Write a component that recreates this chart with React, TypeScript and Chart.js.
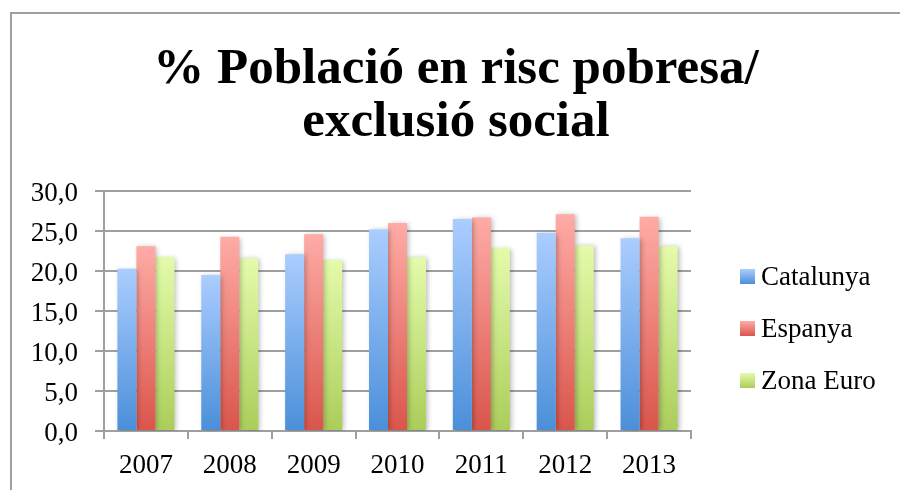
import React, { useEffect, useRef } from "react";
import { Chart, registerables } from "chart.js";

Chart.register(...registerables);

const years = ["2007", "2008", "2009", "2010", "2011", "2012", "2013"];
const catalunya = [20.3, 19.5, 22.1, 25.2, 26.5, 24.8, 24.1];
const espanya = [23.1, 24.3, 24.6, 26.0, 26.7, 27.1, 26.8];
const zonaEuro = [21.8, 21.6, 21.4, 21.7, 22.9, 23.2, 23.1];
const titleLines = ["% Població en risc pobresa/", "exclusió social"];
const seriesNames = ["Catalunya", "Espanya", "Zona Euro"];

const palette = [
  { top: "#abcdff", bottom: "#4a8fd9" },
  { top: "#ffaba6", bottom: "#d9554b" },
  { top: "#e4fbab", bottom: "#abcd5a" },
];

const GRID = "#9f9f9f";
const FONT = "'Liberation Serif', 'Times New Roman', serif";

function barFill(idx: number) {
  return (ctx: any) => {
    const chart = ctx.chart;
    const area = chart.chartArea;
    const c = palette[idx];
    if (!area || ctx.type !== "data" || !chart.scales.y) return c.bottom;
    const y = chart.scales.y.getPixelForValue(ctx.parsed.y);
    const g = chart.ctx.createLinearGradient(0, y, 0, area.bottom);
    g.addColorStop(0, c.top);
    g.addColorStop(1, c.bottom);
    return g;
  };
}

const shadowPlugin = {
  id: "barShadow",
  beforeDatasetsDraw(chart: any) {
    const ctx = chart.ctx;
    ctx.save();
    ctx.shadowColor = "rgba(0,0,0,0.28)";
    ctx.shadowBlur = 5;
    ctx.shadowOffsetX = 2;
    ctx.shadowOffsetY = 1;
  },
  afterDatasetsDraw(chart: any) {
    chart.ctx.restore();
  },
};

const legendPlugin = {
  id: "gradLegend",
  afterDraw(chart: any) {
    const ctx = chart.ctx;
    const area = chart.chartArea;
    const x = area.right + 49;
    const centerY = 328.5;
    const gap = 52;
    ctx.save();
    ctx.font = `27px ${FONT}`;
    ctx.textBaseline = "middle";
    ctx.textAlign = "left";
    chart.data.datasets.forEach((ds: any, i: number) => {
      const cy = centerY + (i - 1) * gap;
      const c = palette[i];
      const g = ctx.createLinearGradient(0, cy - 7.5, 0, cy + 7.5);
      g.addColorStop(0, c.top);
      g.addColorStop(1, c.bottom);
      ctx.fillStyle = g;
      ctx.fillRect(x, cy - 7.5, 15, 15);
      ctx.fillStyle = "#000";
      ctx.fillText(ds.label, x + 21, cy + 1);
    });
    ctx.restore();
  },
};

export default function App() {
  const ref = useRef<HTMLCanvasElement>(null);

  useEffect(() => {
    if (!ref.current) return;
    const chart = new Chart(ref.current, {
      type: "bar",
      data: {
        labels: years,
        datasets: [catalunya, espanya, zonaEuro].map((d, i) => ({
          label: seriesNames[i],
          data: d,
          backgroundColor: barFill(i),
          borderWidth: 0,
          categoryPercentage: 0.68,
          barPercentage: 1,
        })),
      },
      options: {
        responsive: false,
        animation: false,
        layout: { padding: { left: 12, right: 0, top: 0, bottom: 0 } },
        plugins: {
          legend: { display: false },
          tooltip: { enabled: false },
          title: {
            display: true,
            text: titleLines,
            color: "#000",
            font: { family: FONT, size: 51, weight: "bold", lineHeight: 1.04 },
            padding: { top: 43, bottom: 42 },
          },
        },
        scales: {
          x: {
            grid: {
              display: true,
              drawOnChartArea: false,
              drawTicks: true,
              tickLength: 8,
              color: GRID,
              lineWidth: 2,
            },
            border: { display: true, color: GRID, width: 2 },
            ticks: {
              color: "#000",
              font: { family: FONT, size: 27 },
              padding: 11,
              maxRotation: 0,
            },
            afterFit(s: any) {
              s.height = 59;
            },
          },
          y: {
            min: 0,
            max: 30,
            grid: { color: GRID, lineWidth: 2, tickLength: 9, drawTicks: true },
            border: { display: true, color: GRID, width: 2 },
            ticks: {
              stepSize: 5,
              color: "#000",
              font: { family: FONT, size: 27 },
              padding: 17,
              labelOffset: 3,
              callback: (v: any) => Number(v).toFixed(1).replace(".", ","),
            },
            afterFit(s: any) {
              s.width = 92;
            },
          },
          legendSpace: {
            type: "linear",
            position: "right",
            display: true,
            grid: { display: false },
            border: { display: false },
            ticks: { display: false },
            afterFit(s: any) {
              s.width = 209;
            },
          },
        },
      },
      plugins: [shadowPlugin, legendPlugin],
    } as any);
    return () => chart.destroy();
  }, []);

  return (
    <>
      <div
        style={{
          position: "fixed",
          left: 0,
          top: 0,
          width: 900,
          height: 490,
          background: "#fff",
        }}
      >
        <canvas ref={ref} width={900} height={490} style={{ display: "block" }} />
      </div>
      <div
        style={{
          position: "fixed",
          left: 10,
          top: 12,
          width: 1000,
          height: 1000,
          border: `2px solid ${GRID}`,
          boxSizing: "border-box",
          pointerEvents: "none",
        }}
      />
    </>
  );
}
